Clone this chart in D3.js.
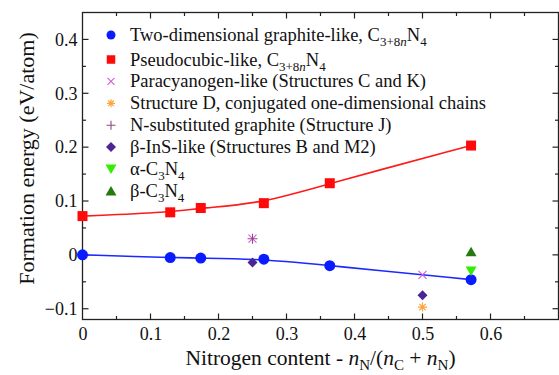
<!DOCTYPE html>
<html>
<head>
<meta charset="utf-8">
<script src="https://cdn.jsdelivr.net/npm/d3@7"></script>
<style>
  html, body { margin: 0; padding: 0; background: #fff; }
  svg { display: block; }
  svg text, svg tspan { font-family: "Liberation Serif", "Times New Roman", Tinos, "DejaVu Serif", serif !important; fill: #111; }
</style>
</head>
<body>
<svg id="chart" width="559" height="375" font-family="Liberation Serif, serif"></svg>
<script>
// Nitrogen fraction nN/(nC+nN) for the C(3+8n)N4 family
const familyX = [0, 4 / 31, 4 / 23, 4 / 15, 4 / 11, 4 / 7];
const graphiteLikeE = [0.000, -0.005, -0.006, -0.008, -0.020, -0.046];
const pseudocubicE = [0.072, 0.079, 0.087, 0.096, 0.133, 0.203];

// Isolated structures: [nitrogen fraction, formation energy]
const paracyanogenPts = [[0.25, 0.030], [0.5, -0.037]];
const structureDPts = [[0.5, -0.097]];
const nSubGraphitePts = [[0.25, 0.030]];
const betaInSPts = [[0.25, -0.014], [0.5, -0.075]];
const alphaC3N4Pts = [[4 / 7, -0.030]];
const betaC3N4Pts = [[4 / 7, 0.006]];

const xTickValues = [0, 0.1, 0.2, 0.3, 0.4, 0.5, 0.6];
const yTickValues = [-0.1, 0, 0.1, 0.2, 0.3, 0.4];

const legendLabels = [
  "Two-dimensional graphite-like, C_{3+8*n*}N_{4}",
  "Pseudocubic-like, C_{3+8*n*}N_{4}",
  "Paracyanogen-like (Structures C and K)",
  "Structure D, conjugated one-dimensional chains",
  "N-substituted graphite (Structure J)",
  "β-InS-like (Structures B and M2)",
  "α-C_{3}N_{4}",
  "β-C_{3}N_{4}"
];
const xTitle = "Nitrogen content - *n*_{N}/(*n*_{C} + *n*_{N})";
const yTitle = "Formation energy (eV/atom)";

const svg = d3.select("#chart");
const m = { left: 82.5, right: 558.5, top: 12.5, bottom: 319.5 };

const x = d3.scaleLinear().domain([0, 0.7]).range([m.left, m.right]);
const y = d3.scaleLinear().domain([-0.12, 0.45]).range([m.bottom, m.top]);

// Parse "_{...}" subscripts and "*...*" italics into styled pieces
function parseRich(str) {
  const out = [];
  let sub = false, ital = false, buf = "";
  const flush = () => { if (buf) out.push({ t: buf, sub, ital }); buf = ""; };
  for (let i = 0; i < str.length; i++) {
    const c = str[i];
    if (c === "_" && str[i + 1] === "{") { flush(); sub = true; i++; }
    else if (c === "}" && sub) { flush(); sub = false; }
    else if (c === "*") { flush(); ital = !ital; }
    else buf += c;
  }
  flush();
  return out;
}
function richText(sel, str, size, subSize, subDy) {
  let prevSub = false;
  parseRich(str).forEach(p => {
    const ts = sel.append("tspan").text(p.t)
      .style("font-size", (p.sub ? subSize : size) + "px")
      .style("font-style", p.ital ? "italic" : "normal");
    if (p.sub && !prevSub) ts.attr("dy", subDy);
    if (!p.sub && prevSub) ts.attr("dy", -subDy);
    prevSub = p.sub;
  });
}

// Marker drawing
const markers = {
  circle: (g, s, c) => g.append("circle").attr("r", s / 2).attr("fill", c),
  square: (g, s, c) => g.append("rect").attr("x", -s / 2).attr("y", -s / 2).attr("width", s).attr("height", s).attr("fill", c),
  cross: (g, s, c) => g.append("path").attr("d", `M${-s/2},${-s/2}L${s/2},${s/2}M${-s/2},${s/2}L${s/2},${-s/2}`).attr("stroke", c).attr("stroke-width", 1.1).attr("fill", "none"),
  plus: (g, s, c) => g.append("path").attr("d", `M${-s/2},0L${s/2},0M0,${-s/2}L0,${s/2}`).attr("stroke", c).attr("stroke-width", 1.1).attr("fill", "none"),
  star: (g, s, c) => {
    const r = s / 2, d = r * 0.707;
    g.append("path").attr("d", `M${-r},0L${r},0M0,${-r}L0,${r}M${-d},${-d}L${d},${d}M${-d},${d}L${d},${-d}`).attr("stroke", c).attr("stroke-width", 1.2).attr("fill", "none");
  },
  diamond: (g, s, c) => g.append("path").attr("d", `M0,${-s/2}L${s/2},0L0,${s/2}L${-s/2},0Z`).attr("fill", c),
  triDown: (g, s, c) => g.append("path").attr("d", `M${-s/2},${-s*0.42}L${s/2},${-s*0.42}L0,${s*0.45}Z`).attr("fill", c),
  triUp: (g, s, c) => g.append("path").attr("d", `M${-s/2},${s*0.42}L${s/2},${s*0.42}L0,${-s*0.45}Z`).attr("fill", c)
};

const series = [
  { shape: "circle", color: "#0a1cff", size: 11, lsize: 9, pts: familyX.map((v, i) => [v, graphiteLikeE[i]]) },
  { shape: "square", color: "#ff0a0a", size: 10, lsize: 8.5, pts: familyX.map((v, i) => [v, pseudocubicE[i]]) },
  { shape: "cross", color: "#d45cd8", size: 8, lsize: 7, pts: paracyanogenPts },
  { shape: "star", color: "#ffa33a", size: 9, lsize: 8, pts: structureDPts },
  { shape: "plus", color: "#8a4a88", size: 10, lsize: 9, pts: nSubGraphitePts },
  { shape: "diamond", color: "#4b2596", size: 10, lsize: 10, pts: betaInSPts },
  { shape: "triDown", color: "#33ee00", size: 11, lsize: 11, pts: alphaC3N4Pts },
  { shape: "triUp", color: "#257a0e", size: 11, lsize: 11, pts: betaC3N4Pts }
];

// Smooth trend curves through each family
const curve = d3.line().x(d => x(d[0])).y(d => y(d[1])).curve(d3.curveBasis);
svg.append("path").datum(series[1].pts).attr("d", curve)
  .attr("fill", "none").attr("stroke", "#ff1a1a").attr("stroke-width", 1.6);
svg.append("path").datum(series[0].pts).attr("d", curve)
  .attr("fill", "none").attr("stroke", "#1a2aff").attr("stroke-width", 1.6);

// Frame and inward ticks on all four sides
const axisColor = "#222";
svg.append("rect").attr("x", m.left).attr("y", m.top)
  .attr("width", m.right - m.left).attr("height", m.bottom - m.top)
  .attr("fill", "none").attr("stroke", axisColor).attr("stroke-width", 1.3);

const xMinor = d3.range(0.05, 0.7, 0.1);
const xMajor = d3.range(0.1, 0.65, 0.1);
const yMinor = d3.range(-0.05, 0.45, 0.1);
const yMajor = d3.range(-0.1, 0.45, 0.1);
const tickG = svg.append("g").attr("stroke", axisColor).attr("stroke-width", 1.2);
function xTicks(vals, len) {
  vals.forEach(v => {
    tickG.append("line").attr("x1", x(v)).attr("x2", x(v)).attr("y1", m.bottom).attr("y2", m.bottom - len);
    tickG.append("line").attr("x1", x(v)).attr("x2", x(v)).attr("y1", m.top).attr("y2", m.top + len);
  });
}
function yTicks(vals, len) {
  vals.forEach(v => {
    tickG.append("line").attr("y1", y(v)).attr("y2", y(v)).attr("x1", m.left).attr("x2", m.left + len);
    tickG.append("line").attr("y1", y(v)).attr("y2", y(v)).attr("x1", m.right).attr("x2", m.right - len);
  });
}
xTicks(xMajor, 6); xTicks(xMinor, 3.5);
yTicks(yMajor, 6); yTicks(yMinor, 3.5);

// Tick labels via D3 axes (lines hidden; frame ticks drawn above)
const fmt = d => d3.format("~g")(+d.toFixed(2));
const xAxis = svg.append("g").attr("transform", `translate(0,${m.bottom})`)
  .call(d3.axisBottom(x).tickValues(xTickValues).tickSize(0).tickPadding(8).tickFormat(fmt));
const yAxis = svg.append("g").attr("transform", `translate(${m.left},0)`)
  .call(d3.axisLeft(y).tickValues(yTickValues).tickSize(0).tickPadding(5).tickFormat(fmt));
[xAxis, yAxis].forEach(a => {
  a.attr("font-family", null);
  a.select(".domain").remove();
  a.selectAll("text").style("font-size", "18px").attr("fill", "#111");
});
xAxis.selectAll("text").attr("dy", "0.71em");

// Data markers
series.forEach(s => {
  s.pts.forEach(p => {
    const g = svg.append("g").attr("transform", `translate(${x(p[0])},${y(p[1])})`);
    markers[s.shape](g, s.size, s.color);
  });
});

// Legend
const leg = svg.append("g");
legendLabels.forEach((lab, i) => {
  const cy = i === 0 ? 35 : 37.6 + i * 21.9;
  const g = leg.append("g").attr("transform", `translate(111,${cy})`);
  markers[series[i].shape](g, series[i].lsize, series[i].color);
  const t = leg.append("text").attr("x", 130).attr("y", cy + 6).style("font-size", "18.5px");
  richText(t, lab, 18.5, 13, 5);
});

// Axis titles
const xt = svg.append("text").attr("x", (m.left + m.right) / 2).attr("y", 365)
  .attr("text-anchor", "middle").style("font-size", "21.5px");
richText(xt, xTitle, 21.5, 15, 5);
svg.append("text").attr("transform", `translate(34,${158.5}) rotate(-90)`)
  .attr("text-anchor", "middle").style("font-size", "22px").text(yTitle);
</script>
</body>
</html>
